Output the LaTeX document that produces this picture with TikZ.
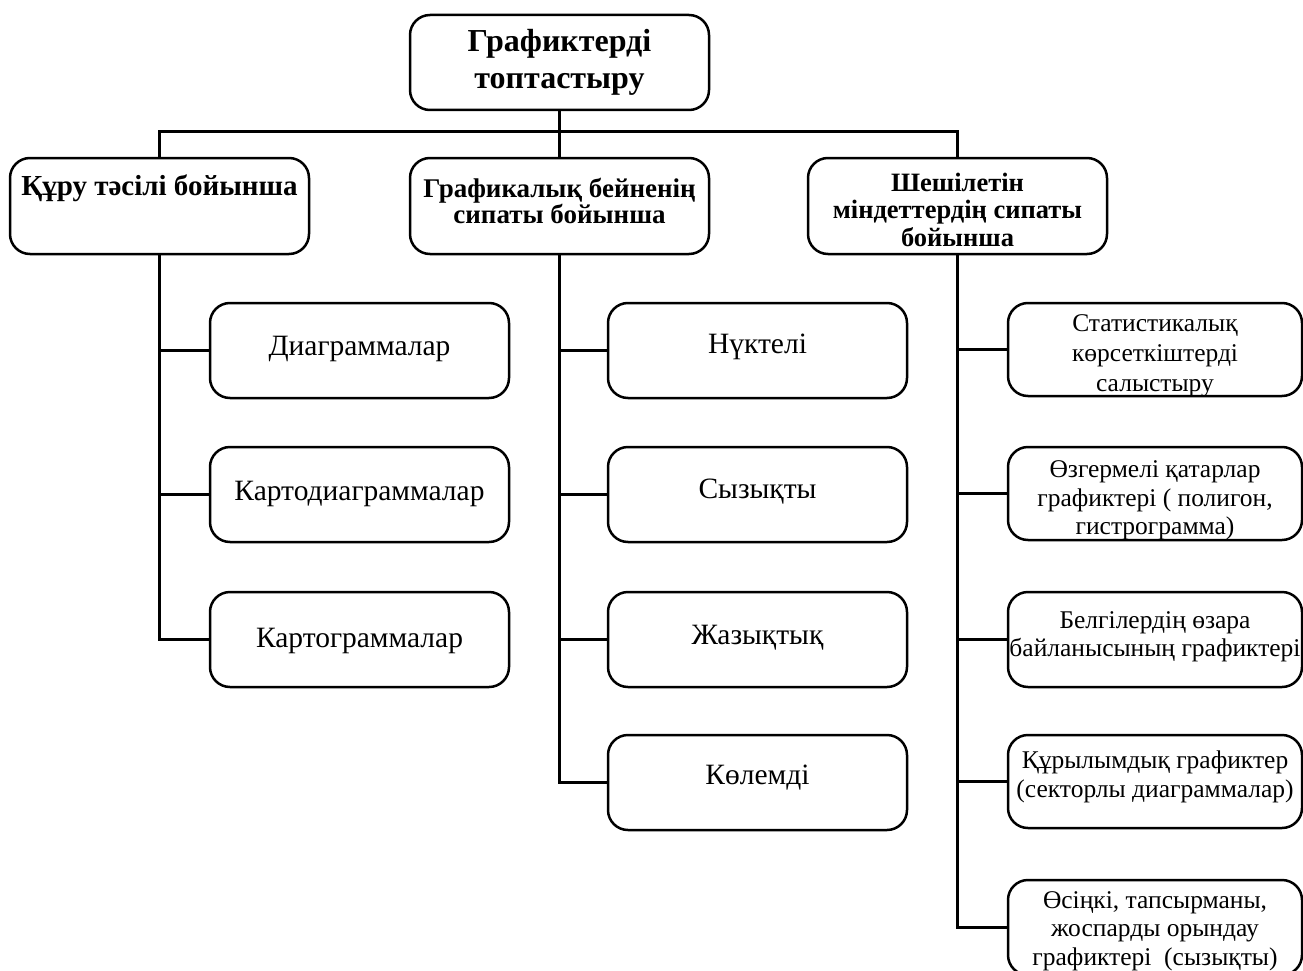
\documentclass[tikz,border=0pt]{standalone}
\usepackage{fontspec}
\setmainfont{Liberation Serif}
\begin{document}
\begin{tikzpicture}[x=1pt,y=-1pt,
  box/.style={draw, line width=2.5pt, rounded corners=20pt, inner sep=0pt,
    minimum width=299pt, minimum height=95pt},
  rbox/.style={box, minimum width=294pt},
  conn/.style={line width=2.8pt},
  txt/.style={inner sep=0pt, align=center},
  ttl/.style={txt, font=\bfseries\fontsize{32}{37}\selectfont, execute at begin node=\strut},
  hd/.style={txt, font=\bfseries\fontsize{27}{25}\selectfont, execute at begin node=\strut},
  lf/.style={txt, font=\fontsize{29.5}{33}\selectfont},
  rt/.style={txt, font=\fontsize{25.5}{28.5}\selectfont, execute at begin node=\strut}]
\useasboundingbox[fill=white] (0,0) rectangle (1303,971);

% top
\node[box] (T) at (559.5,62.5) {};
\node[ttl, anchor=north] (Tt) at (559.5,29) {Графиктерді\\топтастыру};

% level 2
\node[box, minimum height=96pt] (L) at (159.5,206) {};
\node[txt, font=\bfseries\fontsize{29}{33}\selectfont, anchor=base] (Lt) at (159.5,195) {Құру тәсілі бойынша};
\node[box, minimum height=96pt] (M) at (559.5,206) {};
\node[hd, anchor=north] (Mt) at (559.5,177.5) {Графикалық бейненің\\сипаты бойынша};
\node[box, minimum height=96pt] (R) at (957.5,206) {};
\node[hd, font=\bfseries\fontsize{26.5}{27.5}\selectfont, anchor=north] (Rt) at (957.5,172.75) {Шешілетін\\міндеттердің сипаты\\бойынша};

\draw[conn] (T.south) -- (M.north);
\draw[conn] (L.north) -- ++(0,-25) -| (R.north);

% left children
\node[box] (L1) at (359.5,350.5) {};
\node[lf, anchor=base] at (359.5,355) {Диаграммалар};
\node[box] (L2) at (359.5,494.5) {};
\node[lf, anchor=base] at (359.5,500) {Картодиаграммалар};
\node[box] (L3) at (359.5,639.5) {};
\node[lf, anchor=base] at (359.5,647) {Картограммалар};
\draw[conn] (L.south) |- (L3.west);
\draw[conn] (L1.west) -- (L1.west -| L.south);
\draw[conn] (L2.west) -- (L2.west -| L.south);

% middle children
\node[box] (M1) at (757.5,350.5) {};
\node[lf, anchor=base] at (757.5,353) {Нүктелі};
\node[box] (M2) at (757.5,494.5) {};
\node[lf, anchor=base] at (757.5,498) {Сызықты};
\node[box] (M3) at (757.5,639.5) {};
\node[lf, anchor=base] at (757.5,644) {Жазықтық};
\node[box] (M4) at (757.5,782.5) {};
\node[lf, anchor=base] at (757.5,784) {Көлемді};
\draw[conn] (M.south) |- (M4.west);
\draw[conn] (M1.west) -- (M1.west -| M.south);
\draw[conn] (M2.west) -- (M2.west -| M.south);
\draw[conn] (M3.west) -- (M3.west -| M.south);

% right children
\node[rbox, minimum height=93pt] (R1) at (1155,349.5) {};
\begin{scope}
\clip (1009,304) rectangle (1301,395);
\node[rt, font=\fontsize{25.5}{30}\selectfont, anchor=north] at (1155,314) {Статистикалық\\көрсеткіштерді\\салыстыру};
\end{scope}
\node[rbox, minimum height=93pt] (R2) at (1155,493.5) {};
\node[rt, anchor=north] at (1155,460.5) {Өзгермелі қатарлар\\графиктері ( полигон,\\гистрограмма)};
\node[rbox, minimum height=95pt] (R3) at (1155,639.5) {};
\node[rt, anchor=north] at (1155,611) {Белгілердің өзара\\байланысының графиктері};
\node[rbox, minimum height=93pt] (R4) at (1155,781.5) {};
\node[rt, anchor=north] at (1155,751) {Құрылымдық графиктер\\(секторлы диаграммалар)};
\node[rbox] (R5) at (1155,927.5) {};
\node[rt, anchor=north] at (1155,891) {Өсіңкі, тапсырманы,\\жоспарды орындау\\графиктері~~(сызықты)};
\draw[conn] (R.south) |- (R5.west);
\draw[conn] (R1.west) -- (R1.west -| R.south);
\draw[conn] (R2.west) -- (R2.west -| R.south);
\draw[conn] (R3.west) -- (R3.west -| R.south);
\draw[conn] (R4.west) -- (R4.west -| R.south);
\end{tikzpicture}
\end{document}
